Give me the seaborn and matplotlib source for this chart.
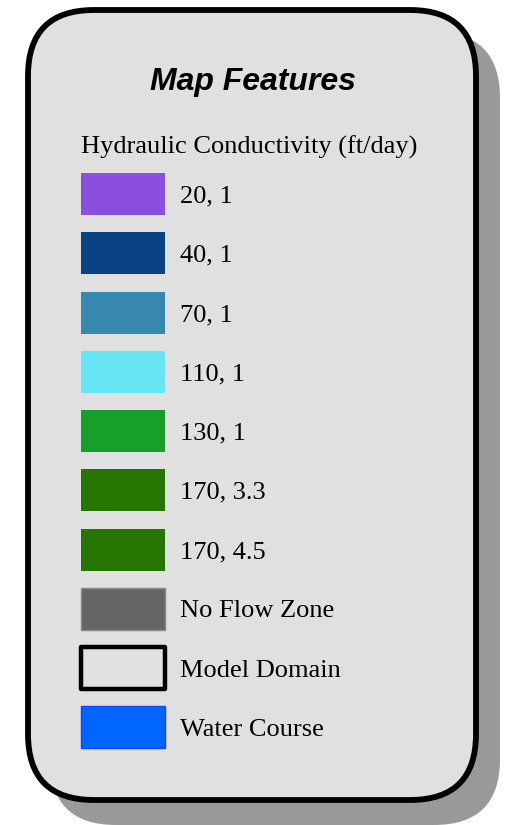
import matplotlib
matplotlib.use("Agg")
import matplotlib.pyplot as plt
import seaborn as sns
import pandas as pd
from matplotlib.patches import FancyBboxPatch

# legend content
title = "Map Features"
subtitle = "Hydraulic Conductivity (ft/day)"
labels = ["20, 1", "40, 1", "70, 1", "110, 1", "130, 1",
          "170, 3.3", "170, 4.5", "No Flow Zone", "Model Domain", "Water Course"]
colors = ["#8a4fdf", "#0a4283", "#3688ae", "#67e5f5", "#179f2c",
          "#257500", "#257500", "#666666", "#e0e0e0", "#0066ff"]
edges = [None, None, None, None, None, None, None, "#8a8a8a", "#000000", "#1a3fff"]
swatch = [1] * len(labels)

sns.set_style("white")
plt.rcParams["font.family"] = ["Liberation Serif", "DejaVu Serif"]
plt.rcParams["text.color"] = "black"

fig = plt.figure(figsize=(5.07, 8.25), dpi=100)
fig.patch.set_facecolor("white")
ax = fig.add_axes([0, 0, 1, 1])
ax.set_xlim(0, 507)
ax.set_ylim(825, 0)
ax.axis("off")

# drop shadow + panel
shadow = FancyBboxPatch((50, 32), 450, 793, boxstyle="round,pad=0,rounding_size=66",
                        facecolor="#999999", edgecolor="none", zorder=1)
ax.add_patch(shadow)
panel = FancyBboxPatch((28, 10), 448, 790, boxstyle="round,pad=0,rounding_size=66",
                       facecolor="#e0e0e0", edgecolor="black", linewidth=4.2, zorder=2)
ax.add_patch(panel)

ax.text(253, 82, title, ha="center", va="center", fontsize=23, fontweight="bold",
        fontstyle="italic", family=["Liberation Sans", "DejaVu Sans"], color="black", zorder=3)
ax.text(81, 147, subtitle, ha="left", va="center", fontsize=19, color="black", zorder=3)

# swatches
W, H = 507.0, 825.0
row = 59.25
top = 194 - row / 2
sax = fig.add_axes([81 / W, 1 - (top + row * len(labels)) / H, 84 / W, row * len(labels) / H])
sax.set_zorder(5)
df = pd.DataFrame({"label": labels, "value": swatch})
sns.barplot(data=df, x="value", y="label", hue="label", palette=colors, orient="h",
            width=42 / row, saturation=1, legend=False, ax=sax)
sax.set_xlim(0, 1)
sax.patch.set_alpha(0)
sax.axis("off")
for bar, ec in zip(sax.patches, edges):
    bar.set_clip_on(False)
    if ec is None:
        bar.set_edgecolor("none")
    elif ec == "#000000":
        bar.set_edgecolor(ec)
        bar.set_linewidth(3.2)
        bar.set_joinstyle("round")
    else:
        bar.set_edgecolor(ec)
        bar.set_linewidth(1)
for i, lab in enumerate(labels):
    sax.text(99 / 84, i + 2.5 / row, lab, ha="left", va="center", fontsize=19, color="black")

fig.savefig("out.png", dpi=100)
